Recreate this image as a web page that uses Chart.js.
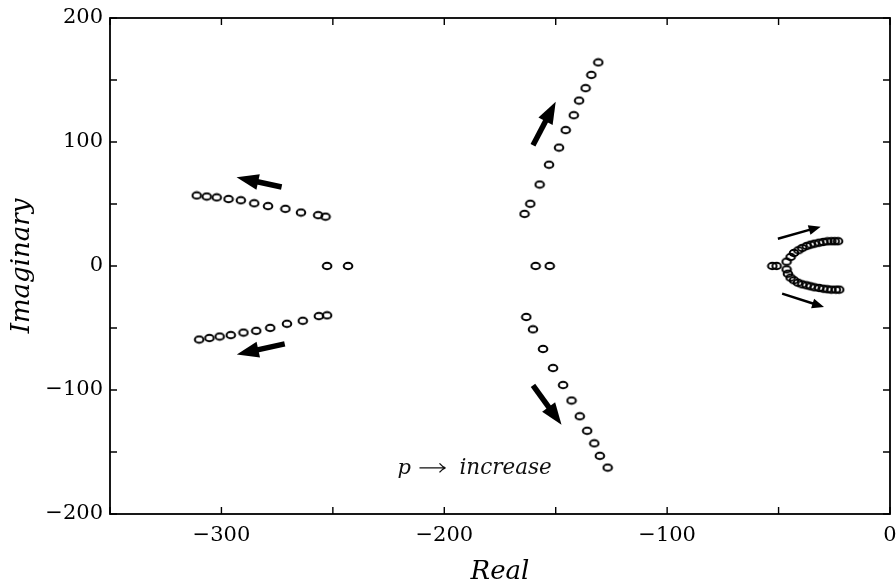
<!DOCTYPE html>
<html>
<head>
<meta charset="utf-8">
<script src="https://cdn.jsdelivr.net/npm/chart.js@4/dist/chart.umd.min.js"></script>
<style>
  html, body { margin: 0; padding: 0; background: #ffffff; }
  #wrap { width: 896px; height: 585px; }
</style>
</head>
<body>
<div id="wrap"><canvas id="c" width="896" height="585"></canvas></div>
<script>
// ---------- data (real / imaginary parts of the root-locus points) ----------
const leftUpRe  = [-311.1, -306.6, -302.1, -296.8, -291.3, -285.3, -279.1, -271.3, -264.3, -256.6, -253.3];
const leftUpIm  = [56.9, 56.0, 55.3, 54.0, 53.0, 50.6, 48.3, 46.1, 43.1, 41.0, 39.8];
const leftLoRe  = [-310.0, -305.4, -300.8, -295.8, -290.1, -284.4, -278.1, -270.6, -263.5, -256.3, -252.6];
const leftLoIm  = [-59.3, -58.1, -56.9, -55.7, -53.7, -52.3, -49.9, -46.6, -44.2, -40.4, -39.8];
const leftAxRe  = [-252.6, -243.2];
const leftAxIm  = [0, 0];

const midUpRe   = [-130.9, -134.0, -136.6, -139.5, -141.9, -145.5, -148.5, -153.0, -157.2, -161.4, -164.0];
const midUpIm   = [164.2, 154.1, 143.4, 133.4, 121.6, 109.6, 95.5, 81.7, 65.7, 50.2, 42.0];
const midLoRe   = [-163.2, -160.2, -155.7, -151.2, -146.7, -142.9, -139.2, -135.9, -132.7, -130.2, -126.7];
const midLoIm   = [-41.1, -51.1, -66.9, -82.3, -96.0, -108.5, -121.2, -132.9, -143.0, -153.1, -162.6];
const midAxRe   = [-159.0, -152.7];
const midAxIm   = [0, 0];

const rightUpRe = [-46.4, -44.6, -43.1, -41.1, -39.4, -37.4, -35.6, -33.8, -31.8, -29.9, -28.1, -26.3, -24.8, -23.3];
const rightUpIm = [3.5, 7.3, 10.5, 12.7, 14.5, 16.1, 17.2, 18.0, 18.8, 19.4, 19.9, 20.0, 20.0, 20.0];
const rightLoRe = [-46.4, -45.8, -44.6, -43.1, -41.3, -39.4, -37.4, -35.6, -33.8, -31.8, -29.9, -28.1, -26.3, -24.3, -22.8];
const rightLoIm = [-2.7, -6.2, -9.4, -11.5, -13.5, -14.8, -15.6, -16.4, -17.2, -17.7, -18.3, -18.8, -19.1, -19.1, -19.1];
const rightAxRe = [-52.8, -50.9];
const rightAxIm = [0, 0];

// axis ticks
const xTickLabels = [-300, -200, -100, 0];
const yTickLabels = [200, 100, 0, -100, -200];

// direction arrows (tail -> head, data coordinates)
const arrowTailRe = [-273.0, -271.6, -160.2, -160.2, -50.3, -48.4];
const arrowTailIm = [63.7, -62.8, 97.3, -96.2, 22.0, -22.3];
const arrowHeadRe = [-293.2, -293.1, -150.0, -147.4, -31.1, -29.6];
const arrowHeadIm = [71.5, -71.3, 132.4, -128.1, 31.7, -33.1];

// annotation text anchor
const noteRe = -221.0;
const noteIm = -168.0;

// ---------- helpers ----------
function zip(re, im) { return re.map((r, i) => ({ x: r, y: im[i] })); }
function fmt(v) { return v < 0 ? '\u2212' + Math.abs(v) : String(v); }

function ellipseMarker() {
  const c = document.createElement('canvas');
  c.width = 12; c.height = 10;
  const g = c.getContext('2d');
  g.strokeStyle = '#000';
  g.lineWidth = 2;
  g.beginPath();
  g.ellipse(6, 5, 4.3, 3.2, 0, 0, Math.PI * 2);
  g.stroke();
  return c;
}
const marker = ellipseMarker();

const branches = [
  [leftUpRe, leftUpIm], [leftLoRe, leftLoIm], [leftAxRe, leftAxIm],
  [midUpRe, midUpIm], [midLoRe, midLoIm], [midAxRe, midAxIm],
  [rightUpRe, rightUpIm], [rightLoRe, rightLoIm], [rightAxRe, rightAxIm]
];

const datasets = branches.map(([re, im]) => ({
  data: zip(re, im),
  showLine: false,
  pointStyle: marker,
  pointRadius: 5,
  pointHoverRadius: 5,
  borderColor: '#000',
  backgroundColor: 'rgba(0,0,0,0)'
}));

// frame with inward ticks on all four sides
const framePlugin = {
  id: 'frame',
  afterDatasetsDraw(chart) {
    const { ctx, chartArea: { left, right, top, bottom }, scales: { x, y } } = chart;
    ctx.save();
    ctx.strokeStyle = '#000';
    ctx.lineWidth = 1.8;
    ctx.strokeRect(left, top, right - left, bottom - top);
    ctx.lineWidth = 1.4;
    const tl = 7;
    ctx.beginPath();
    x.ticks.forEach(t => {
      const px = x.getPixelForValue(t.value);
      ctx.moveTo(px, bottom); ctx.lineTo(px, bottom - tl);
      ctx.moveTo(px, top); ctx.lineTo(px, top + tl);
    });
    y.ticks.forEach(t => {
      const py = y.getPixelForValue(t.value);
      ctx.moveTo(left, py); ctx.lineTo(left + tl, py);
      ctx.moveTo(right, py); ctx.lineTo(right - tl, py);
    });
    ctx.stroke();
    ctx.restore();
  }
};

// arrows + note text
const annotPlugin = {
  id: 'annot',
  afterDatasetsDraw(chart) {
    const { ctx, scales: { x, y } } = chart;
    ctx.save();
    ctx.fillStyle = '#000';
    ctx.strokeStyle = '#000';
    arrowTailRe.forEach((_, i) => {
      const x0 = x.getPixelForValue(arrowTailRe[i]);
      const y0 = y.getPixelForValue(arrowTailIm[i]);
      const x1 = x.getPixelForValue(arrowHeadRe[i]);
      const y1 = y.getPixelForValue(arrowHeadIm[i]);
      const thin = i >= 4;
      const lw = thin ? 2.4 : 5.5;
      const hl = thin ? 12 : 22;
      const hw = thin ? 5 : 8;
      const ang = Math.atan2(y1 - y0, x1 - x0);
      const bx = x1 - hl * Math.cos(ang);
      const by = y1 - hl * Math.sin(ang);
      ctx.lineWidth = lw;
      ctx.lineCap = 'butt';
      ctx.beginPath();
      ctx.moveTo(x0, y0);
      ctx.lineTo(bx + 2 * Math.cos(ang), by + 2 * Math.sin(ang));
      ctx.stroke();
      ctx.beginPath();
      ctx.moveTo(x1, y1);
      ctx.lineTo(bx - hw * Math.sin(ang), by + hw * Math.cos(ang));
      ctx.lineTo(bx + hw * Math.sin(ang), by - hw * Math.cos(ang));
      ctx.closePath();
      ctx.fill();
    });
    // note: p -> increase
    const tx = x.getPixelForValue(noteRe);
    const ty = y.getPixelForValue(noteIm);
    ctx.textBaseline = 'alphabetic';
    ctx.textAlign = 'left';
    ctx.fillStyle = '#111';
    ctx.strokeStyle = '#111';
    ctx.font = 'italic 21px "DejaVu Serif"';
    ctx.fillText('p', tx, ty);
    // TeX-style long right arrow
    const ay = ty - 6.5, ax0 = tx + 22, ax1 = tx + 48;
    ctx.lineWidth = 1.3;
    ctx.beginPath();
    ctx.moveTo(ax0, ay); ctx.lineTo(ax1, ay);
    ctx.moveTo(ax1 - 6, ay - 4.5); ctx.quadraticCurveTo(ax1 - 3, ay - 1, ax1, ay);
    ctx.moveTo(ax1 - 6, ay + 4.5); ctx.quadraticCurveTo(ax1 - 3, ay + 1, ax1, ay);
    ctx.stroke();
    ctx.font = 'italic 21.5px "DejaVu Serif"';
    ctx.fillText('increase', tx + 62, ty);
    ctx.restore();
  }
};

new Chart(document.getElementById('c'), {
  type: 'scatter',
  data: { datasets },
  plugins: [framePlugin, annotPlugin],
  options: {
    responsive: false,
    animation: false,
    events: [],
    layout: { padding: { top: 18, right: 6, left: 0, bottom: 0 } },
    plugins: { legend: { display: false }, tooltip: { enabled: false } },
    scales: {
      x: {
        type: 'linear',
        min: -350, max: 0,
        grid: { display: false, drawTicks: false },
        border: { display: false },
        ticks: {
          stepSize: 50,
          padding: 9,
          maxRotation: 0,
          autoSkip: false,
          color: '#000',
          font: { family: '"DejaVu Serif"', size: 21 },
          callback: (v) => xTickLabels.includes(v) ? fmt(v) : ''
        },
        title: {
          display: true, text: 'Real', color: '#000',
          font: { family: '"DejaVu Serif"', size: 26, style: 'italic', lineHeight: 1 },
          padding: { top: 0, bottom: 0 }
        },
        afterFit: (s) => { s.height = 71; s.paddingRight = 0; s.paddingLeft = 0; }
      },
      y: {
        type: 'linear',
        min: -200, max: 200,
        grid: { display: false, drawTicks: false },
        border: { display: false },
        ticks: {
          stepSize: 50,
          padding: 7,
          autoSkip: false,
          color: '#000',
          font: { family: '"DejaVu Serif"', size: 21 },
          callback: (v) => yTickLabels.includes(v) ? fmt(v) : ''
        },
        title: {
          display: true, text: 'Imaginary', color: '#000',
          font: { family: '"DejaVu Serif"', size: 26, style: 'italic', lineHeight: 1 },
          padding: { top: 9, bottom: 0 }
        },
        afterFit: (s) => { s.width = 110; s.paddingTop = 0; s.paddingBottom = 0; }
      }
    }
  }
});
</script>
</body>
</html>
